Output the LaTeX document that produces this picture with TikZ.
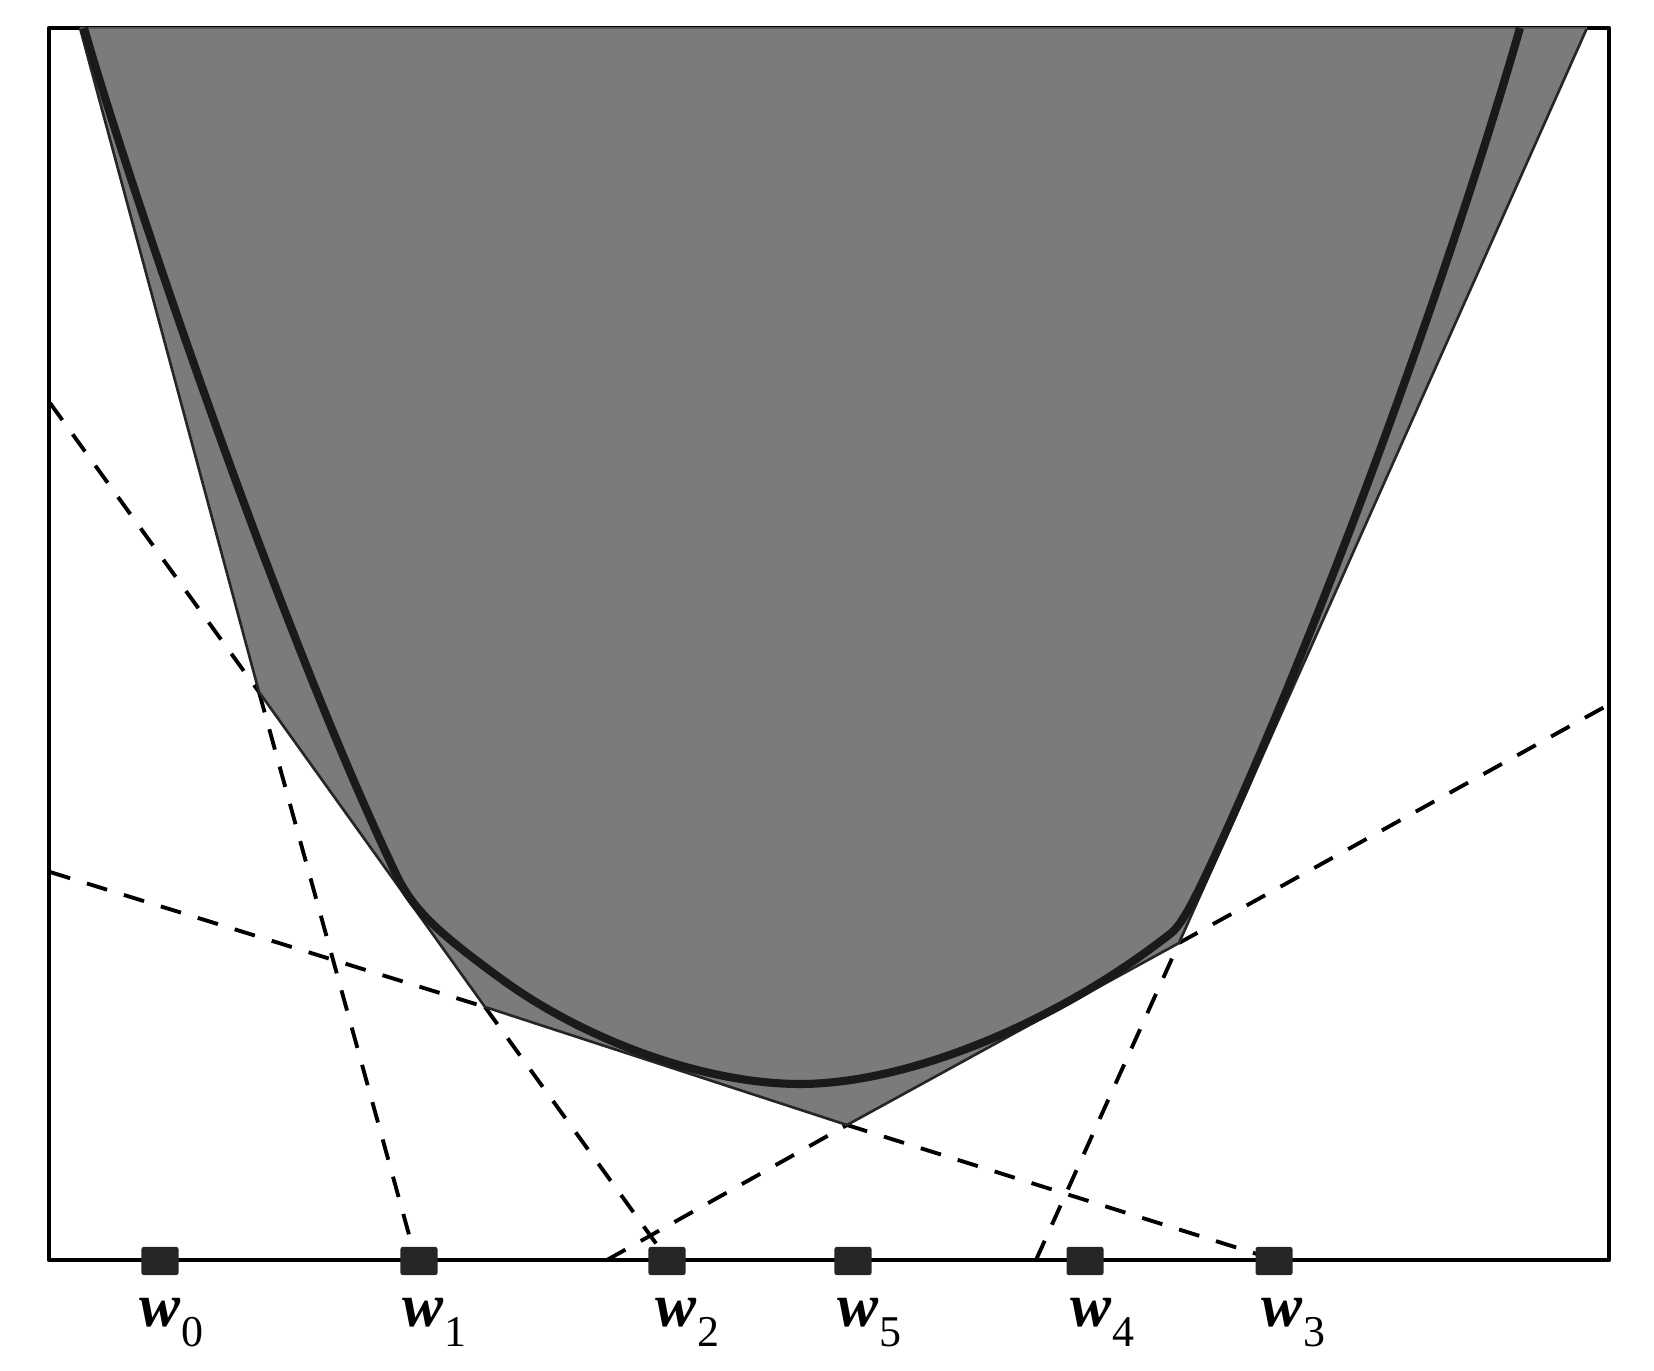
\documentclass[tikz,border=0pt]{standalone}
\usepackage{fontspec}
\setmainfont{Liberation Serif}
\definecolor{fillgrey}{RGB}{123,123,125}
\definecolor{curveblack}{RGB}{26,26,26}
\definecolor{markgrey}{RGB}{38,38,38}
\definecolor{topgrey}{RGB}{85,85,87}
\newcommand{\wlab}[1]{{\fontsize{17.5}{20}\selectfont\bfseries\itshape w}\kern0.3pt\raisebox{-5.5pt}{\fontsize{12.5}{14}\selectfont #1}}
\begin{document}
\begin{tikzpicture}[x=0.01cm,y=-0.01cm,
  frameline/.style={line width=1.2pt, black, line join=round},
  cutline/.style={line width=1.1pt, black, dash pattern=on 6pt off 5pt},
  polyfill/.style={fill=fillgrey, draw=none},
  polyedge/.style={line width=0.75pt, black!85, line join=round},
  fcurve/.style={line width=2.3pt, curveblack, line join=round},
  wmark/.style={fill=markgrey, draw=none, inner sep=0pt, minimum width=0.37cm, minimum height=0.28cm, rounded corners=0.6pt},
  wtext/.style={anchor=base west, inner sep=0pt}]
\useasboundingbox (0,0) rectangle (1654,1371);
% frame
\draw[frameline] (49,28) rectangle (1609,1260);
% polygon vertices
\coordinate (P0) at (80,28);
\coordinate (P1) at (259,692);
\coordinate (P3) at (485,1007);
\coordinate (P4) at (847,1125);
\coordinate (P5) at (1179,943);
\coordinate (P6) at (1587,28);
% free ends of cutting lines
\coordinate (L1) at (50,403);
\coordinate (A1) at (416,1260);
\coordinate (A2) at (668,1260);
\coordinate (L3) at (50,872);
\coordinate (A3) at (1276,1260);
\coordinate (Ae) at (607,1260);
\coordinate (Re) at (1608,705);
\coordinate (Af) at (1036,1260);
% dashed cutting lines
\draw[cutline] (L1) -- (P1);
\draw[cutline] (P3) -- (A2);
\draw[cutline] (P1) -- (A1);
\draw[cutline] (L3) -- (P3);
\draw[cutline] (P4) -- (A3);
\draw[cutline] (Ae) -- (P4);
\draw[cutline] (P5) -- (Re);
\draw[cutline] (Af) -- (P5);
% piecewise linear model
\fill[polyfill] (P0) -- (P1) -- (P3) -- (P4) -- (P5) -- (P6) -- cycle;
\draw[polyedge] (P0) -- (P1) -- (P3) -- (P4) -- (P5) -- (P6);
\draw[line width=0.8pt, topgrey] (P6) -- (P0);
% convex function
\coordinate (C0) at (84,28);
\coordinate (C1) at (395,872);
\coordinate (C2) at (500,978);
\coordinate (C3) at (800,1084);
\coordinate (C4) at (1170,934);
\coordinate (C5) at (1240,800);
\coordinate (C6) at (1520,28);
\draw[fcurve] (C0) .. controls (124,168) and (275,620) .. (C1)
  .. controls (412,908) and (433,929) .. (C2)
  .. controls (587,1042) and (707,1084) .. (C3)
  .. controls (907,1084) and (1055,1024) .. (C4)
  .. controls (1183,924) and (1197,897) .. (C5)
  .. controls (1341,570) and (1453,261) .. (C6);
% axis
\draw[line width=1.4pt, black] (49,1260) -- (1609,1260);
% iterates
\node[wmark] (w0) at (160,1261) {};
\node[wmark] (w1) at (419,1261) {};
\node[wmark] (w2) at (667,1261) {};
\node[wmark] (w5) at (853,1261) {};
\node[wmark] (w4) at (1085,1261) {};
\node[wmark] (w3) at (1274,1261) {};
\node[wtext] (lw0) at (139,1327) {\wlab{0}};
\node[wtext] (lw1) at (402,1327) {\wlab{1}};
\node[wtext] (lw2) at (655,1327) {\wlab{2}};
\node[wtext] (lw5) at (837,1327) {\wlab{5}};
\node[wtext] (lw4) at (1070,1327) {\wlab{4}};
\node[wtext] (lw3) at (1261,1327) {\wlab{3}};
\end{tikzpicture}
\end{document}
